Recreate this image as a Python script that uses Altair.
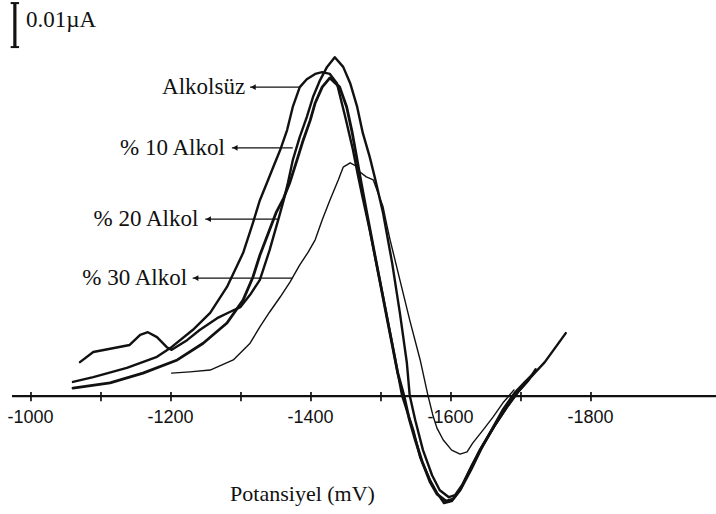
import altair as alt
import pandas as pd

# ---------------- data ----------------
# potential in mV; current in nA (scale bar: 0.01 µA = 10 nA), baseline = 0
series_names = ["Alkolsüz", "% 10 Alkol", "% 20 Alkol", "% 30 Alkol"]

alk0_mv = [-1060, -1089, -1137, -1180, -1199, -1231, -1256, -1280, -1303, -1317, -1327, -1337,
           -1346, -1356, -1366, -1374, -1384, -1394, -1406, -1416, -1427, -1437, -1449, -1460,
           -1467, -1473, -1484, -1503, -1517, -1530, -1539, -1546, -1556, -1570, -1580, -1590,
           -1601, -1613, -1627, -1641, -1660, -1680, -1694, -1713, -1734, -1764]
alk0_na = [3.2, 4.3, 6.4, 8.9, 10.9, 15.0, 18.9, 24.8, 32.5, 39.3, 44.5, 48.4,
           52.0, 55.9, 60.5, 65.7, 70.2, 72.0, 73.2, 73.6, 73.2, 71.1, 63.4, 55.9,
           50.2, 45.7, 37.7, 22.5, 11.1, 0.2, -4.3, -7.7, -13.9, -19.1, -22.0, -24.3,
           -23.9, -21.4, -16.8, -12.3, -7.3, -2.5, 0.7, 4.1, 7.7, 14.3]

alk10_mv = [-1070, -1089, -1141, -1156, -1167, -1180, -1194, -1201, -1223, -1241, -1266, -1284,
            -1299, -1313, -1327, -1341, -1354, -1361, -1367, -1374, -1384, -1394, -1403, -1413,
            -1423, -1434, -1446, -1456, -1466, -1474, -1484, -1491, -1503, -1516, -1527, -1537,
            -1541, -1549, -1560, -1573, -1584, -1597, -1606, -1616, -1630, -1646, -1663, -1680,
            -1696, -1710, -1721]
alk10_na = [7.7, 10.0, 11.6, 13.9, 14.5, 13.4, 11.1, 10.5, 12.7, 15.0, 17.7, 19.1,
            20.2, 23.0, 26.4, 33.2, 40.5, 44.5, 48.4, 53.6, 58.9, 63.4, 68.0, 71.8,
            74.8, 77.0, 74.8, 71.1, 65.7, 59.8, 54.3, 49.8, 41.6, 30.2, 18.9, 7.5,
            0.2, -5.5, -12.3, -18.0, -21.4, -23.0, -22.5, -20.2, -15.7, -11.1, -6.6, -2.5,
            0.9, 3.4, 6.1]

alk20_mv = [-1060, -1113, -1160, -1209, -1246, -1280, -1303, -1317, -1327, -1339, -1350, -1361,
            -1370, -1380, -1389, -1399, -1406, -1416, -1427, -1441, -1451, -1459, -1466, -1471,
            -1479, -1489, -1510, -1524, -1533, -1540, -1549, -1559, -1570, -1580, -1593, -1603,
            -1614, -1629, -1643, -1659, -1674, -1691, -1706, -1716]
alk20_na = [1.8, 3.0, 5.2, 8.2, 12.0, 16.6, 21.8, 27.0, 32.0, 37.0, 41.6, 45.0,
            48.6, 53.6, 58.2, 62.7, 66.6, 70.2, 72.3, 70.2, 65.7, 59.8, 53.6, 49.1,
            42.3, 33.9, 16.6, 5.2, 0.0, -5.0, -10.0, -15.0, -19.5, -22.3, -23.9, -23.4,
            -21.1, -16.6, -12.0, -7.5, -3.2, 0.7, 3.2, 4.8]

alk30_mv = [-1201, -1227, -1256, -1289, -1313, -1327, -1341, -1356, -1370, -1384, -1396, -1406,
            -1416, -1427, -1439, -1446, -1456, -1464, -1470, -1479, -1489, -1496, -1503, -1509,
            -1513, -1527, -1541, -1556, -1567, -1574, -1580, -1589, -1601, -1613, -1623, -1631,
            -1646, -1660, -1674, -1690]
alk30_na = [5.2, 5.5, 5.9, 8.2, 12.0, 15.7, 19.1, 22.5, 25.9, 29.8, 32.7, 35.5,
            40.0, 44.5, 49.1, 52.0, 53.0, 52.3, 50.9, 49.8, 49.1, 46.1, 43.0, 38.4,
            35.5, 26.4, 17.3, 8.2, 0.2, -4.3, -7.3, -10.0, -12.3, -13.2, -12.7, -10.7,
            -7.7, -4.8, -1.6, 1.4]

line_widths = [2.4, 2.4, 2.8, 1.4]

# x axis ticks / labels
minor_ticks = [-1000, -1100, -1200, -1300, -1400, -1500, -1600, -1700, -1800]
major_ticks = [-1000, -1200, -1400, -1600, -1800]

# curve labels: text right end (mV), level (nA), arrow tail on curve (mV), arrow head (mV)
label_text = ["Alkolsüz", "% 10 Alkol", "% 20 Alkol", "% 30 Alkol"]
label_x = [-1306, -1277, -1239, -1223]
label_y = [70.2, 56.4, 40.2, 26.8]
arrow_tail = [-1384, -1374, -1353, -1374]
arrow_head = [-1313, -1287, -1249, -1231]

# scale bar: 0.01 µA = 10 nA
bar_x = -977
bar_y0 = 79.3
bar_y1 = 89.3
bar_text = "0.01µA"

# ---------------- tables ----------------
all_mv = [alk0_mv, alk10_mv, alk20_mv, alk30_mv]
all_na = [alk0_na, alk10_na, alk20_na, alk30_na]

labels = pd.DataFrame({"t": label_text, "x": label_x, "y": label_y,
                       "tail": arrow_tail, "head": arrow_head,
                       "tip": [h - 4.5 for h in arrow_head]})
ticks = pd.DataFrame({"x": minor_ticks, "y0": [0.9] * len(minor_ticks), "y1": [-1.2] * len(minor_ticks)})
bar = pd.DataFrame({"x": [bar_x], "y0": [bar_y0], "y1": [bar_y1],
                    "xl": [bar_x + 6], "xr": [bar_x - 6], "tx": [bar_x - 16], "ty": [85.5],
                    "t": [bar_text]})
zero_df = pd.DataFrame({"x": [-972.9], "x2": [-1978.6], "y": [0.0]})

W, H = 704, 510
AXIS_Y = 396
xs = alt.Scale(domain=[-1978.6, -972.9], reverse=True, nice=False, zero=False)
ys = alt.Scale(domain=[-25.9, 90.0], nice=False, zero=False)

SERIF = "Liberation Serif"
SANS = "Liberation Sans"

x_axis = alt.Axis(
    values=major_ticks, labelExpr="'' + datum.value", domain=False, ticks=False,
    grid=False, offset=AXIS_Y - H, labelPadding=12, labelOffset=-1, labelFont=SANS,
    labelFontSize=18, labelColor="#111", title="Potansiyel (mV)", titleFont=SERIF,
    titleFontSize=22, titleFontWeight="normal", titleColor="#111", titleX=302 - 12, titleY=97,
    titleAlign="center", titleBaseline="middle")

zero_line = alt.Chart(zero_df).mark_rule(color="#111", strokeWidth=2.2).encode(
    x=alt.X("x:Q", scale=xs, axis=x_axis), x2="x2:Q", y=alt.Y("y:Q", scale=ys, axis=None))

curve_layers = []
for name, mv, na, lw in zip(series_names, all_mv, all_na, line_widths):
    df = pd.DataFrame({"mV": mv, "nA": na, "seri": name})
    curve_layers.append(
        alt.Chart(df).mark_line(color="#111", strokeWidth=lw, strokeJoin="round",
                                strokeCap="round").encode(
            x=alt.X("mV:Q", scale=xs), y=alt.Y("nA:Q", scale=ys))
    )

tick_marks = alt.Chart(ticks).mark_rule(color="#111", strokeWidth=1.7).encode(
    x=alt.X("x:Q", scale=xs), y=alt.Y("y0:Q", scale=ys), y2="y1:Q")

label_marks = alt.Chart(labels).mark_text(align="right", baseline="middle", font=SERIF,
                                          fontSize=23, color="#111").encode(
    x=alt.X("x:Q", scale=xs), y=alt.Y("y:Q", scale=ys), text="t:N")

arrow_lines = alt.Chart(labels).mark_rule(color="#111", strokeWidth=1.4).encode(
    x=alt.X("tail:Q", scale=xs), x2="head:Q", y=alt.Y("y:Q", scale=ys))

arrow_heads = alt.Chart(labels).mark_point(shape="triangle-left", filled=True, size=34,
                                           color="#111", opacity=1).encode(
    x=alt.X("tip:Q", scale=xs), y=alt.Y("y:Q", scale=ys))

bar_line = alt.Chart(bar).mark_rule(color="#111", strokeWidth=3.2).encode(
    x=alt.X("x:Q", scale=xs), y=alt.Y("y0:Q", scale=ys), y2="y1:Q")
bar_cap_lo = alt.Chart(bar).mark_rule(color="#111", strokeWidth=2).encode(
    x=alt.X("xl:Q", scale=xs), x2="xr:Q", y=alt.Y("y0:Q", scale=ys))
bar_cap_hi = alt.Chart(bar).mark_rule(color="#111", strokeWidth=2).encode(
    x=alt.X("xl:Q", scale=xs), x2="xr:Q", y=alt.Y("y1:Q", scale=ys))
bar_label = alt.Chart(bar).mark_text(align="left", baseline="middle", font=SERIF, fontSize=23,
                                     color="#111").encode(
    x=alt.X("tx:Q", scale=xs), y=alt.Y("ty:Q", scale=ys), text="t:N")

chart = alt.layer(
    zero_line, tick_marks, *curve_layers, arrow_lines, arrow_heads, label_marks,
    bar_line, bar_cap_lo, bar_cap_hi, bar_label,
).properties(
    width=W, height=H,
    autosize=alt.AutoSizeParams(type="none"),
    padding={"left": 12, "top": 0, "right": 0, "bottom": 4},
    background="white",
).configure_view(strokeWidth=0)

chart.save("out.html", embed_options={"renderer": "svg", "actions": False})
